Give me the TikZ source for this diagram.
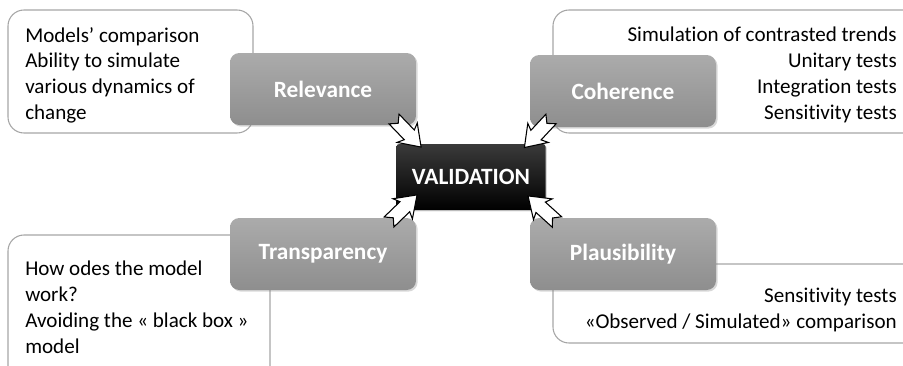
\documentclass[tikz,border=0pt]{standalone}
\usepackage{fontspec}
\setmainfont{Carlito}[Ligatures=NoCommon]
\usetikzlibrary{shadows}
\definecolor{calloutline}{HTML}{A6A6A6}
\definecolor{boxtop}{HTML}{ABABAB}
\definecolor{boxbot}{HTML}{8E8E8E}
\definecolor{valtop}{HTML}{3A3A3A}
\begin{document}
\begin{tikzpicture}[x=0.75pt,y=-0.75pt,
  callout/.style={draw=calloutline, line width=0.8pt, fill=white, rounded corners=12pt},
  callouttext/.style={inner sep=0pt, font=\fontsize{15.8}{19.3}\selectfont},
  topicbox/.style={rounded corners=7pt, top color=boxtop, bottom color=boxbot,
    drop shadow={shadow xshift=1.2pt, shadow yshift=-1.2pt, opacity=0.3},
    text=white, font=\fontsize{17.5}{21}\selectfont\bfseries,
    minimum width=139.5pt, minimum height=54pt, inner sep=0pt},
  valbox/.style={rounded corners=2pt, top color=valtop, bottom color=black,
    drop shadow={shadow xshift=1pt, shadow yshift=-1pt, opacity=0.3},
    text=white, font=\fontsize{17.5}{21}\selectfont\bfseries,
    minimum width=111.75pt, minimum height=49.5pt, inner sep=0pt},
  blockarrow/.style={draw=black, fill=white, line width=0.8pt, line join=miter}
]
\clip (0,0) rectangle (903,365);
\fill[white] (0,0) rectangle (903,365);

% callouts
\draw[callout] (8,10) rectangle (253,133);
\draw[callout] (553,10) rectangle (930,133);
\draw[callout] (8,235) rectangle (270,390);
\draw[callout] (553,264) rectangle (930,343);

\node[callouttext, anchor=north west, align=left] (tl) at (25,27)
  {Models’ comparison\\Ability to simulate\\various dynamics of\\change};
\node[callouttext, anchor=north east, align=right] (tr) at (897,27)
  {Simulation of contrasted trends\\Unitary tests\\Integration tests\\Sensitivity tests};
\node[callouttext, anchor=north west, align=left] (bl) at (25,261)
  {How odes the model\\work?\\Avoiding the « black box »\\model};
\node[callouttext, anchor=north east, align=right] (br) at (897,288)
  {Sensitivity tests\\«Observed / Simulated» comparison};

% topic boxes
\node[topicbox] (rel) at (323,89) {Relevance};
\node[topicbox] (coh) at (623,91) {Coherence};
\node[topicbox] (tra) at (323,254) {Transparency};
\node[topicbox] (pla) at (623,254) {Plausibility};

% center
\node[valbox] (val) at (471,177) {VALIDATION};

% block arrows
\coordinate (a1) at (394,119);
\coordinate (a2) at (551,119);
\coordinate (a3) at (389,222);
\coordinate (a4) at (557,222);
\foreach \c/\ang in {a1/-46, a2/-133, a3/44, a4/138}{
  \draw[blockarrow, shift={(\c)}, rotate=\ang]
    (0,7) -- (22,7) -- (19,14) -- (39,0) -- (19,-14) -- (22,-7) -- (0,-7) -- (6,0) -- cycle;
}
\end{tikzpicture}
\end{document}
